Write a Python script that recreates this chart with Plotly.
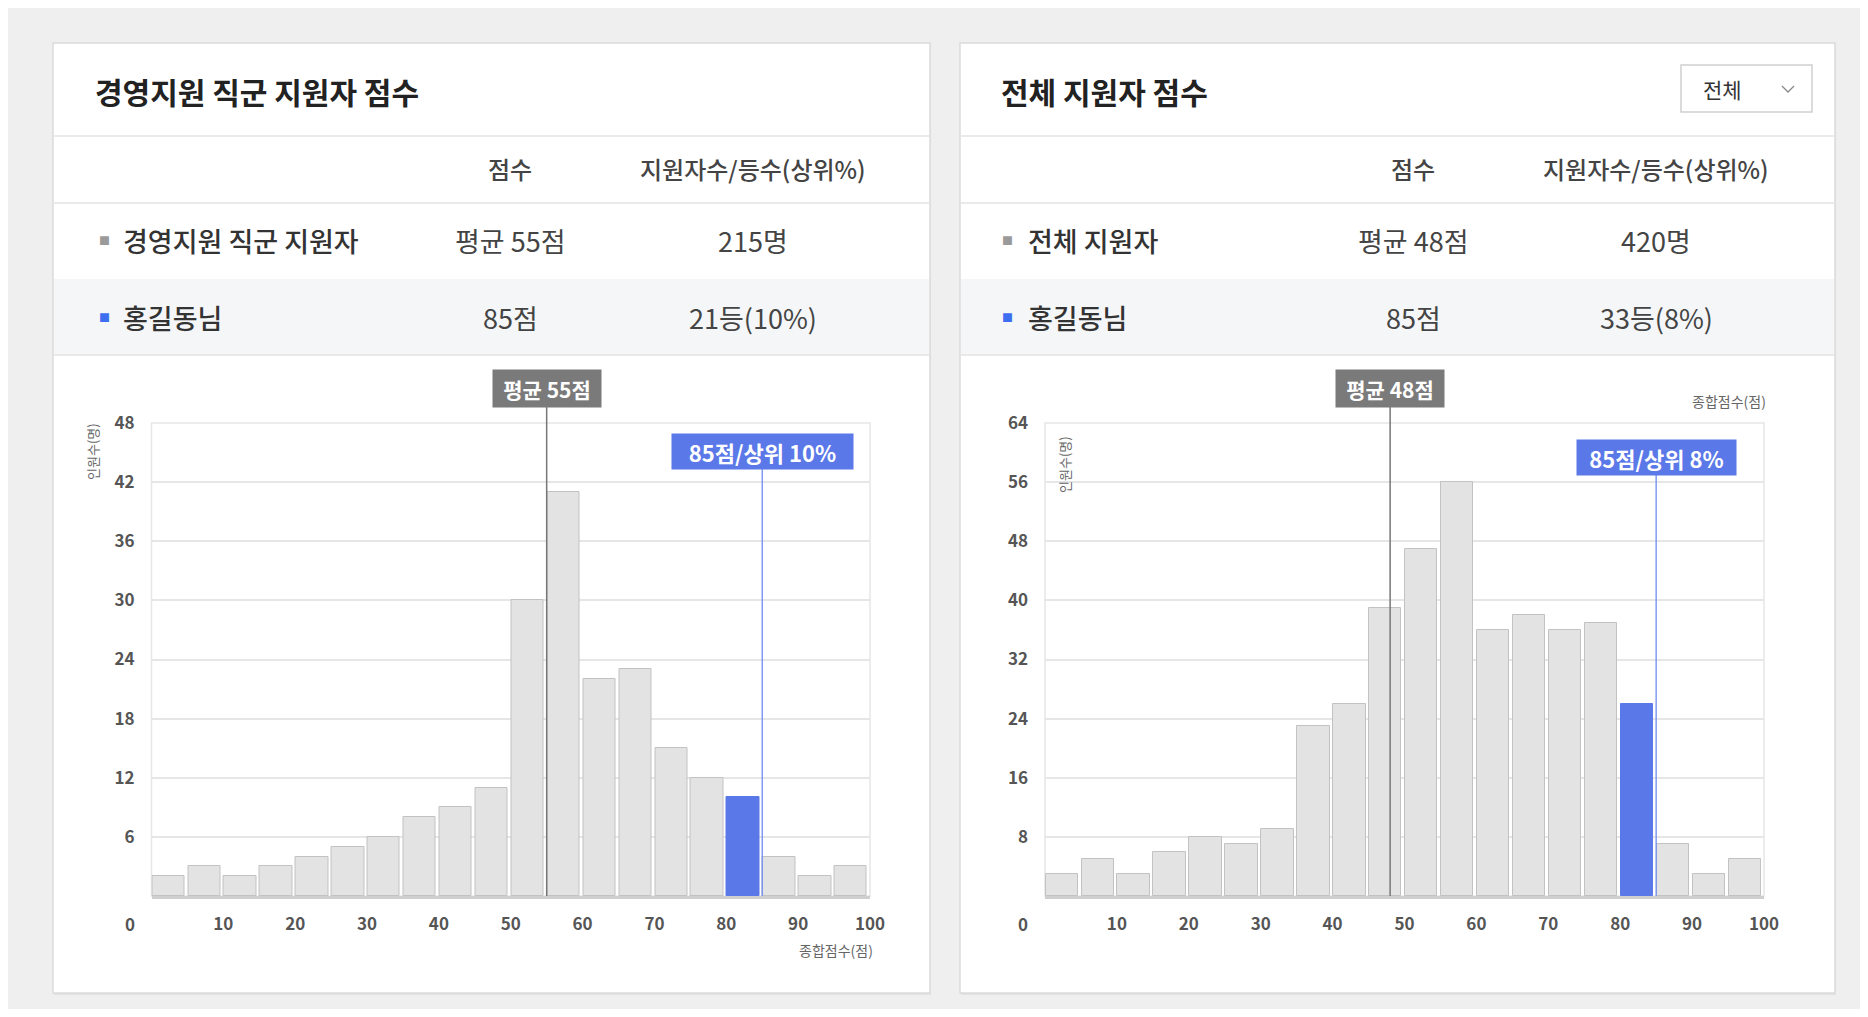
import plotly.graph_objects as go

# ---------------- data ----------------
bin_starts = [0, 5, 10, 15, 20, 25, 30, 35, 40, 45, 50, 55, 60, 65, 70, 75, 80, 85, 90, 95]
counts_dept = [2, 3, 2, 3, 4, 5, 6, 8, 9, 11, 30, 41, 22, 23, 15, 12, 10, 4, 2, 3]
counts_all = [3, 5, 3, 6, 8, 7, 9, 23, 26, 39, 47, 56, 36, 38, 36, 37, 26, 7, 3, 5]

x_ticks = [10, 20, 30, 40, 50, 60, 70, 80, 90, 100]
y_ticks_dept = [6, 12, 18, 24, 30, 36, 42, 48]
y_ticks_all = [8, 16, 24, 32, 40, 48, 56, 64]

panel_titles = ["경영지원 직군 지원자 점수", "전체 지원자 점수"]
group_names = ["경영지원 직군 지원자", "전체 지원자"]
group_means = [55, 48]
group_sizes = [215, 420]
my_name = "홍길동님"
my_score = 85
my_ranks = [21, 33]
my_pcts = [10, 8]
col_headers = ["점수", "지원자수/등수(상위%)"]
dropdown_label = "전체"

# ---------------- geometry helpers ----------------
W, H = 1852, 1001
OFF = 8
FONT = "Noto Sans CJK KR"


def X(p):
    return (p - OFF) / W


def Y(p):
    return 1 - (p - OFF) / H


BAR_GRAY = "#e3e3e3"
BAR_EDGE = "#c2c2c2"
BLUE = "#5a78e8"
MEAN_GRAY = "#7a7a7a"

fig = go.Figure()
shapes = []
annotations = []

panels = [
    dict(x0=53, x1=930, col1=510, col2=753, sq=104, txt=121, title_x=93,
         plot_l=151.5, plot_r=870, ylab_x=92, ylab_y=452, zero_x=130,
         counts=counts_dept, yticks=y_ticks_dept, blue_y=(434, 469)),
    dict(x0=960, x1=1835, col1=1413, col2=1656, sq=1008, txt=1026, title_x=999,
         plot_l=1045, plot_r=1764, ylab_x=1064, ylab_y=465, zero_x=1023,
         counts=counts_all, yticks=y_ticks_all, blue_y=(440, 475)),
]

PLOT_T, PLOT_B = 423, 896

for i, p in enumerate(panels):
    # panel card
    shapes.append(dict(type="rect", xref="paper", yref="paper",
                       x0=X(p["x0"] + 1), x1=X(p["x1"] + 1), y0=Y(44), y1=Y(995),
                       fillcolor="#e2e2e2", line=dict(width=0), layer="below"))
    shapes.append(dict(type="rect", xref="paper", yref="paper",
                       x0=X(p["x0"]), x1=X(p["x1"]), y0=Y(43), y1=Y(993),
                       fillcolor="white", line=dict(color="#dcdcdc", width=1.5), layer="below"))
    # highlighted row background
    shapes.append(dict(type="rect", xref="paper", yref="paper",
                       x0=X(p["x0"] + 1), x1=X(p["x1"] - 1), y0=Y(279), y1=Y(355),
                       fillcolor="#f5f6f8", line=dict(width=0), layer="below"))
    for ly in (136, 203, 355):
        shapes.append(dict(type="line", xref="paper", yref="paper",
                           x0=X(p["x0"] + 1), x1=X(p["x1"] - 1), y0=Y(ly), y1=Y(ly),
                           line=dict(color="#e3e3e3", width=1.5), layer="below"))
    # plot frame
    shapes.append(dict(type="rect", xref="paper", yref="paper",
                       x0=X(p["plot_l"]), x1=X(p["plot_r"]), y0=Y(PLOT_B), y1=Y(PLOT_T),
                       fillcolor="rgba(0,0,0,0)", line=dict(color="#e6e6e6", width=1.5), layer="below"))

    # texts
    annotations.append(dict(x=X(p["title_x"]), y=Y(91), xref="paper", yref="paper",
                            xanchor="left", yanchor="middle", showarrow=False,
                            text="<b>" + panel_titles[i] + "</b>",
                            font=dict(family=FONT, size=30, color="#222")))
    for cx_, txt in ((p["col1"], col_headers[0]), (p["col2"], col_headers[1])):
        annotations.append(dict(x=X(cx_), y=Y(168), xref="paper", yref="paper",
                                xanchor="center", yanchor="middle", showarrow=False,
                                text=txt, font=dict(family=FONT, size=24, color="#444", weight=500)))
    rows = [
        (240, "#9a9a9a", group_names[i], f"평균 {group_means[i]}점", f"{group_sizes[i]}명"),
        (317, "#3d6ef0", my_name, f"{my_score}점", f"{my_ranks[i]}등({my_pcts[i]}%)"),
    ]
    for ry, sqc, name, c1, c2 in rows:
        annotations.append(dict(x=X(p["sq"]), y=Y(ry), xref="paper", yref="paper",
                                xanchor="center", yanchor="middle", showarrow=False,
                                text="■", font=dict(family=FONT, size=11, color=sqc)))
        annotations.append(dict(x=X(p["txt"]), y=Y(ry), xref="paper", yref="paper",
                                xanchor="left", yanchor="middle", showarrow=False,
                                text=name, font=dict(family=FONT, size=27, color="#333", weight=500)))
        annotations.append(dict(x=X(p["col1"]), y=Y(ry), xref="paper", yref="paper",
                                xanchor="center", yanchor="middle", showarrow=False,
                                text=c1, font=dict(family=FONT, size=27, color="#444")))
        annotations.append(dict(x=X(p["col2"]), y=Y(ry), xref="paper", yref="paper",
                                xanchor="center", yanchor="middle", showarrow=False,
                                text=c2, font=dict(family=FONT, size=27, color="#444")))

    # axis refs
    sfx = "" if i == 0 else "2"
    xr, yr = "x" + sfx, "y" + sfx

    colors = [BLUE if b + 5 == my_score else BAR_GRAY for b in bin_starts]
    edges = [BLUE if b + 5 == my_score else BAR_EDGE for b in bin_starts]
    fig.add_trace(go.Bar(x=bin_starts, y=p["counts"], width=4.5, offset=0.08,
                         marker=dict(color=colors, line=dict(color=edges, width=1)),
                         xaxis=xr, yaxis=yr, showlegend=False, hoverinfo="x+y"))

    # mean line + label
    shapes.append(dict(type="line", xref=xr, yref="paper",
                       x0=group_means[i], x1=group_means[i], y0=Y(PLOT_B), y1=Y(407),
                       line=dict(color="#777777", width=1.5), layer="above"))
    annotations.append(dict(x=group_means[i], y=Y(388.5), xref=xr, yref="paper",
                            xanchor="center", yanchor="middle", showarrow=False,
                            text=f"<b>평균 {group_means[i]}점</b>", bgcolor=MEAN_GRAY,
                            width=102, height=31, borderpad=3,
                            font=dict(family=FONT, size=21, color="white")))
    # my score line + label
    by0, by1 = p["blue_y"]
    shapes.append(dict(type="line", xref=xr, yref="paper",
                       x0=my_score, x1=my_score, y0=Y(PLOT_B), y1=Y(by1),
                       line=dict(color="#6f8cf0", width=1.3), layer="above"))
    annotations.append(dict(x=my_score, y=Y((by0 + by1) / 2), xref=xr, yref="paper",
                            xanchor="center", yanchor="middle", showarrow=False,
                            text=f"<b>{my_score}점/상위 {my_pcts[i]}%</b>", bgcolor=BLUE,
                            width=(175 if i == 0 else 153), height=29, borderpad=3,
                            font=dict(family=FONT, size=22, color="white")))

    # zero label and axis titles
    annotations.append(dict(x=X(p["zero_x"]), y=Y(923), xref="paper", yref="paper",
                            xanchor="center", yanchor="middle", showarrow=False,
                            text="0", font=dict(family=FONT, size=17, color="#555", weight=600)))
    annotations.append(dict(x=X(p["ylab_x"]), y=Y(p["ylab_y"]), xref="paper", yref="paper",
                            xanchor="center", yanchor="middle", showarrow=False, textangle=-90,
                            text="인원수(명)", font=dict(family=FONT, size=13, color="#666")))

# x-axis titles
annotations.append(dict(x=X(875), y=Y(950), xref="paper", yref="paper",
                        xanchor="right", yanchor="middle", showarrow=False,
                        text="종합점수(점)", font=dict(family=FONT, size=14, color="#666")))
annotations.append(dict(x=X(1768), y=Y(401), xref="paper", yref="paper",
                        xanchor="right", yanchor="middle", showarrow=False,
                        text="종합점수(점)", font=dict(family=FONT, size=14, color="#666")))

# dropdown
shapes.append(dict(type="rect", xref="paper", yref="paper",
                   x0=X(1681), x1=X(1812), y0=Y(65), y1=Y(112),
                   fillcolor="white", line=dict(color="#cfcfcf", width=1.5)))
cx, cy = 1788, 89
shapes.append(dict(type="path", xref="paper", yref="paper",
                   path=f"M {X(cx-6)},{Y(cy-3)} L {X(cx)},{Y(cy+3)} L {X(cx+6)},{Y(cy-3)}",
                   line=dict(color="#888", width=1.3)))
annotations.append(dict(x=X(1722), y=Y(89), xref="paper", yref="paper",
                        xanchor="center", yanchor="middle", showarrow=False,
                        text=dropdown_label, font=dict(family=FONT, size=21, color="#333")))

tickfont = dict(family=FONT, size=17, color="#555", weight=600)
common_x = dict(range=[0, 100], tickvals=x_ticks, showgrid=False, zeroline=False,
                showline=True, linecolor="#cfcfcf", linewidth=3, ticks="",
                ticklabelstandoff=11, tickfont=tickfont, fixedrange=True, automargin=False)
common_y = dict(showgrid=True, gridcolor="#e6e6e6", gridwidth=2, zeroline=False,
                showline=False, ticks="", ticklabelstandoff=16, tickfont=tickfont,
                fixedrange=True, automargin=False)

fig.update_layout(
    width=W, height=H,
    margin=dict(l=0, r=0, t=0, b=0, autoexpand=False),
    paper_bgcolor="#efefef",
    plot_bgcolor="rgba(0,0,0,0)",
    showlegend=False,
    bargap=0,
    xaxis=dict(domain=[X(151.5), X(870)], anchor="y", **common_x),
    yaxis=dict(domain=[Y(PLOT_B), Y(PLOT_T)], anchor="x", range=[0, 48], tickvals=y_ticks_dept, **common_y),
    xaxis2=dict(domain=[X(1045), X(1764)], anchor="y2", **common_x),
    yaxis2=dict(domain=[Y(PLOT_B), Y(PLOT_T)], anchor="x2", range=[0, 64], tickvals=y_ticks_all, **common_y),
    shapes=shapes,
    annotations=annotations,
    font=dict(family=FONT),
)

fig.write_html("out.html")
